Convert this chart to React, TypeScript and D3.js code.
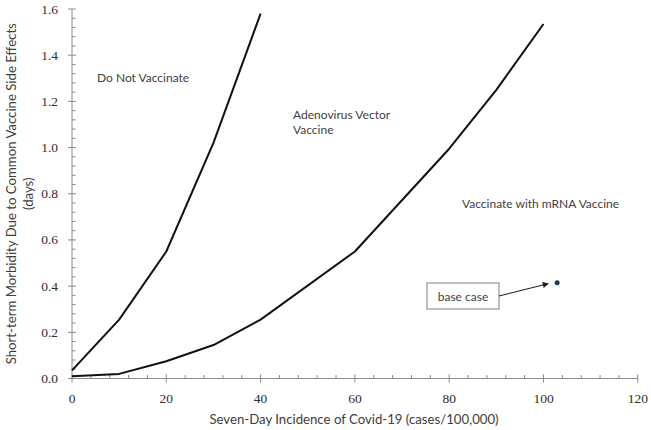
import React from "react";
import * as d3 from "d3";

const W = 651;
const H = 430;

const xTicks = [0, 20, 40, 60, 80, 100, 120];
const yTicks = [0, 0.2, 0.4, 0.6, 0.8, 1.0, 1.2, 1.4, 1.6];

// Threshold curve: Do Not Vaccinate vs Adenovirus Vector Vaccine
const doNotX = [0, 10, 20, 30, 40];
const doNotY = [0.035, 0.255, 0.55, 1.02, 1.58];

// Threshold curve: Adenovirus Vector vs mRNA Vaccine
const adenoX = [0, 10, 20, 30, 40, 60, 80, 90, 100];
const adenoY = [0.01, 0.02, 0.075, 0.145, 0.255, 0.55, 0.995, 1.25, 1.535];

const baseCase = { x: 102.9, y: 0.415 };

export default function App() {
  const x = d3.scaleLinear().domain([0, 120]).range([72, 637.8]);
  const y = d3.scaleLinear().domain([0, 1.6]).range([378.5, 9]);
  const line = d3
    .line<[number, number]>()
    .x((d) => x(d[0]))
    .y((d) => y(d[1]));

  const doNot = doNotX.map((v, i) => [v, doNotY[i]] as [number, number]);
  const adeno = adenoX.map((v, i) => [v, adenoY[i]] as [number, number]);

  const xMinor = d3.range(0, 121, 4).filter((v) => v % 20 !== 0);
  const yMinor = d3.range(0, 41, 1).map((v) => v * 0.04).filter((v, i) => i % 5 !== 0);

  const axisColor = "#8a8a8a";
  const tickFont = "'Liberation Serif', 'Times New Roman', serif";
  const labelFont = "Lato, 'Open Sans', sans-serif";
  const textColor = "#404040";
  const tickColor = "#2e2e2e";

  const bx = x(baseCase.x);
  const by = y(baseCase.y);

  return (
    <svg
      width={W}
      height={H}
      style={{ position: "absolute", left: 0, top: 0, background: "#fff" }}
    >
      <defs>
        <marker
          id="arrow"
          viewBox="0 0 10 10"
          refX="9"
          refY="5"
          markerWidth="7"
          markerHeight="6"
          orient="auto"
          markerUnits="userSpaceOnUse"
        >
          <path d="M0,0 L10,5 L0,10 z" fill="#1a1a1a" />
        </marker>
      </defs>
      <rect x={0} y={0} width={W} height={H} fill="#fff" />

      {/* axes */}
      <line x1={x(0)} x2={x(0)} y1={y(1.6)} y2={y(0)} stroke={axisColor} strokeWidth={1} />
      <line x1={x(0)} x2={x(120)} y1={y(0)} y2={y(0)} stroke={axisColor} strokeWidth={1} />

      {/* y ticks */}
      {yTicks.map((t) => (
        <g key={"yt" + t}>
          <line x1={x(0) - 4} x2={x(0) + 4} y1={y(t)} y2={y(t)} stroke={axisColor} />
          <text
            x={58}
            y={y(t)}
            textAnchor="end"
            dominantBaseline="central"
            fontFamily={tickFont}
            fontSize={13.5}
            fill={tickColor}
          >
            {t.toFixed(1)}
          </text>
        </g>
      ))}
      {yMinor.map((t) => (
        <line key={"ym" + t} x1={x(0)} x2={x(0) + 3.5} y1={y(t)} y2={y(t)} stroke={axisColor} />
      ))}

      {/* x ticks */}
      {xTicks.map((t) => (
        <g key={"xt" + t}>
          <line x1={x(t)} x2={x(t)} y1={y(0) - 4} y2={y(0) + 4} stroke={axisColor} />
          <text
            x={x(t)}
            y={398}
            textAnchor="middle"
            dominantBaseline="central"
            fontFamily={tickFont}
            fontSize={13.5}
            fill={tickColor}
          >
            {t}
          </text>
        </g>
      ))}
      {xMinor.map((t) => (
        <line key={"xm" + t} x1={x(t)} x2={x(t)} y1={y(0) - 3.5} y2={y(0)} stroke={axisColor} />
      ))}

      {/* axis titles */}
      <text
        x={354}
        y={419}
        textAnchor="middle"
        dominantBaseline="central"
        fontFamily={labelFont}
        fontSize={13.2}
        fill={textColor}
      >
        Seven-Day Incidence of Covid-19 (cases/100,000)
      </text>
      <g transform={`translate(11, ${(y(0) + y(1.6)) / 2}) rotate(-90)`}>
        <text
          x={0}
          y={0}
          textAnchor="middle"
          dominantBaseline="central"
          fontFamily={labelFont}
          fontSize={13.2}
          fill={textColor}
        >
          Short-term Morbidity Due to Common Vaccine Side Effects
        </text>
        <text
          x={0}
          y={16.5}
          textAnchor="middle"
          dominantBaseline="central"
          fontFamily={labelFont}
          fontSize={13.2}
          fill={textColor}
        >
          (days)
        </text>
      </g>

      {/* curves */}
      <path d={line(doNot) || ""} fill="none" stroke="#111" strokeWidth={2} strokeLinejoin="round" />
      <path d={line(adeno) || ""} fill="none" stroke="#111" strokeWidth={2} strokeLinejoin="round" />

      {/* region labels */}
      <text x={97} y={77} dominantBaseline="central" fontFamily={labelFont} fontSize={12} fill={textColor}>
        Do Not Vaccinate
      </text>
      <text x={293} y={114} dominantBaseline="central" fontFamily={labelFont} fontSize={12} fill={textColor}>
        Adenovirus Vector
      </text>
      <text x={293} y={129.5} dominantBaseline="central" fontFamily={labelFont} fontSize={12} fill={textColor}>
        Vaccine
      </text>
      <text x={462} y={203} dominantBaseline="central" fontFamily={labelFont} fontSize={12} fill={textColor}>
        Vaccinate with mRNA Vaccine
      </text>

      {/* base case annotation */}
      <rect x={427} y={283} width={72} height={26} fill="#fff" stroke="#7f7f7f" strokeWidth={1} />
      <text x={463} y={296} textAnchor="middle" dominantBaseline="central" fontFamily={labelFont} fontSize={12} fill={textColor}>
        base case
      </text>
      <line x1={499} y1={296} x2={bx - 9} y2={by + 1} stroke="#1a1a1a" strokeWidth={1} markerEnd="url(#arrow)" />
      <circle cx={bx} cy={by} r={2.5} fill="#1f3864" />
    </svg>
  );
}
